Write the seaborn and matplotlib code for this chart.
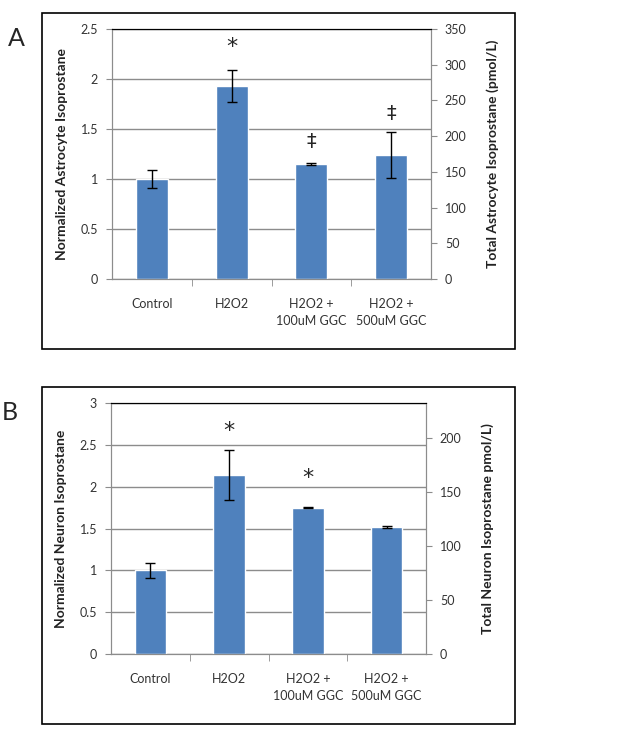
import pandas as pd
import matplotlib
matplotlib.use("Agg")
import matplotlib.pyplot as plt
import seaborn as sns
from matplotlib.patches import Rectangle

# Dados
categories = ["Control", "H2O2", "H2O2 +\n100uM GGC", "H2O2 +\n500uM GGC"]
astro_mean = [1.00, 1.93, 1.15, 1.24]
astro_err = [0.09, 0.16, 0.01, 0.23]
astro_marks = ["", "*", "‡", "‡"]
astro_mark_y = [0, 2.32, 1.38, 1.66]
neuron_mean = [1.00, 2.14, 1.75, 1.52]
neuron_err = [0.09, 0.30, 0.01, 0.01]
neuron_marks = ["", "*", "*", ""]
neuron_mark_y = [0, 2.66, 2.10, 0]

sns.set_style("white")
plt.rcParams["font.family"] = ["Lato", "DejaVu Sans"]

BLUE = "#4F81BD"
GRID = "#8c8c8c"

fig = plt.figure(figsize=(6.3, 7.36), dpi=100)


def px_axes(x0, x1, ytop, ybot):
    W, H = 630, 736
    return fig.add_axes([x0 / W, (H - ybot) / H, (x1 - x0) / W, (ybot - ytop) / H])


def panel(ax, means, errs, marks, mark_y, ymax, ystep, rmax, rticks, ylabel, rlabel, letter, box):
    df = pd.DataFrame({"cat": categories, "val": means})
    sns.barplot(data=df, x="cat", y="val", color=BLUE, saturation=1, width=0.4, ax=ax, zorder=3)
    ax.errorbar(range(len(means)), means, yerr=errs, fmt="none", ecolor="black",
                elinewidth=1.0, capsize=3.5, capthick=1.0, zorder=4)
    for i, (m, y) in enumerate(zip(marks, mark_y)):
        if m:
            fs = 16 if m == "*" else 14
            ax.text(i, y, m, ha="center", va="center", fontsize=fs, family="DejaVu Sans", zorder=5)
    ax.set_xlim(-0.5, len(means) - 0.5)
    ax.set_ylim(0, ymax)
    yt = [round(k * ystep, 2) for k in range(int(round(ymax / ystep)) + 1)]
    ax.set_yticks(yt)
    ax.set_yticklabels([f"{v:g}" for v in yt], fontsize=9, color="#333333")
    ax.yaxis.grid(True, color=GRID, linewidth=1.0, zorder=0)
    ax.set_axisbelow(True)
    ax.tick_params(axis="y", direction="out", length=4, color=GRID, pad=6, left=True)
    ax.set_xticks([0.5, 1.5, 2.5], minor=True)
    ax.tick_params(axis="x", which="minor", direction="out", length=5, color=GRID, bottom=True)
    ax.tick_params(axis="x", which="major", length=0, pad=14, labelsize=9, labelcolor="#333333")
    ax.set_xlabel("")
    ax.set_ylabel(ylabel, fontsize=10, fontweight="bold", color="#222222", labelpad=9)
    for s in ["left", "bottom", "right"]:
        ax.spines[s].set_color(GRID)
    ax.spines["top"].set_color("black")
    for lab in ax.get_xticklabels():
        lab.set_linespacing(1.5)

    ax2 = ax.twinx()
    ax2.set_ylim(0, rmax)
    ax2.set_yticks(rticks)
    ax2.set_yticklabels([str(v) for v in rticks], fontsize=9, color="#333333")
    ax2.tick_params(axis="y", direction="out", length=4, color=GRID, pad=6, right=True)
    ax2.set_ylabel(rlabel, fontsize=10, fontweight="bold", color="#222222", labelpad=14)
    for s in ["left", "bottom", "right"]:
        ax2.spines[s].set_color(GRID)
    ax2.spines["top"].set_color("black")

    W, H = 630, 736
    x0, y0, x1, y1 = box
    fig.patches.append(Rectangle((x0 / W, (H - y1) / H), (x1 - x0) / W, (y1 - y0) / H,
                                 transform=fig.transFigure, fill=False, edgecolor="black",
                                 linewidth=1.2))
    fig.text(letter[1] / W, 1 - letter[2] / H, letter[0], fontsize=18, ha="left", va="center")


axA = px_axes(112, 431, 29, 279)
panel(axA, astro_mean, astro_err, astro_marks, astro_mark_y, 2.5, 0.5, 350, list(range(0, 351, 50)),
      "Normalized Astrocyte Isoprostane", "Total Astrocyte Isoprostane (pmol/L)",
      ("A", 8, 38), (42, 13, 515, 349))

axB = px_axes(111, 426, 403, 654)
panel(axB, neuron_mean, neuron_err, neuron_marks, neuron_mark_y, 3.0, 0.5, 232.5, list(range(0, 201, 50)),
      "Normalized Neuron Isoprostane", "Total Neuron Isoprostane pmol/L)",
      ("B", 2, 412), (42, 387, 515, 724))

plt.savefig("out.png", dpi=100)
